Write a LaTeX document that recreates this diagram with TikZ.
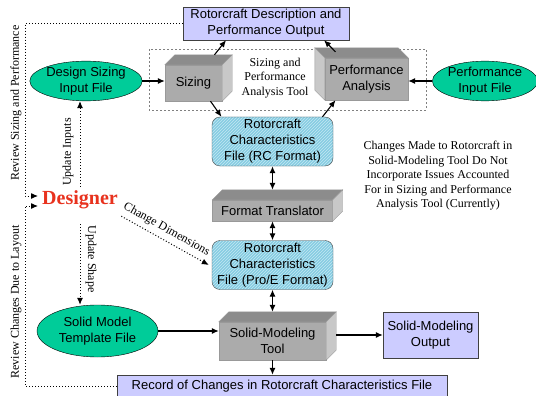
\documentclass[tikz,border=0pt]{standalone}
\usepackage{fontspec}
\setmainfont{Liberation Serif}
\setsansfont{Liberation Sans}
\usetikzlibrary{shapes.geometric,patterns,calc,arrows.meta}

\begin{document}
\begin{tikzpicture}[x=1pt,y=-1pt,>={Latex[length=7pt,width=6pt]},
  sansfont/.style={font=\fontsize{13}{16}\selectfont\sffamily},
  serfont/.style={font=\fontsize{12}{14.5}\selectfont},
  ellnode/.style={ellipse,draw=black,fill=mint,sansfont,align=center,inner sep=0pt},
  outnode/.style={rectangle,draw=black!75,fill=lilac,sansfont,align=center,inner sep=0pt},
  blknode/.style={rectangle,draw=gray!80,fill=boxfront,sansfont,align=center,inner sep=0pt},
  rcnode/.style={rectangle,rounded corners=8pt,draw=black!70,preaction={fill=hatchblue},
    pattern=north east lines,pattern color=hatchline,sansfont,align=center,inner sep=0pt,
    minimum width=121,minimum height=49},
  arr/.style={->,line width=1.1pt},
  dblarr/.style={<->,line width=1.1pt},
  dotarr/.style={->,dotted,line width=1pt}]
\definecolor{mint}{HTML}{00CC99}
\definecolor{lilac}{HTML}{CCCCFF}
\definecolor{hatchblue}{HTML}{86CCE2}
\definecolor{hatchline}{HTML}{C4E8F2}
\definecolor{boxfront}{HTML}{ABABAB}
\definecolor{boxtop}{HTML}{8C8C8C}
\definecolor{boxside}{HTML}{C8C8C8}
\definecolor{desred}{HTML}{E8321E}
\useasboundingbox (0,0) rectangle (536,396);

\draw[gray,dash pattern=on 2pt off 2pt] (149,49) rectangle (426,110);
\node[serfont,align=center] (tool) at (275,78) {Sizing and\\Performance\\Analysis Tool};

\node[outnode,minimum width=166,minimum height=33] (out) at (266,23.5) {Rotorcraft Description and\\Performance Output};
\node[blknode,minimum width=57,minimum height=36] (sz) at (193.5,83) {Sizing};
\node[blknode,minimum width=83,minimum height=42] (pa) at (366.5,79) {Performance\\Analysis};
\node[ellnode,minimum width=102,minimum height=38] (dsi) at (86,81) {Design Sizing\\Input File};
\node[ellnode,minimum width=96,minimum height=38] (pif) at (485,81) {Performance\\Input File};
\node[rcnode] (rc) at (272.5,141.5) {Rotorcraft\\Characteristics\\File (RC Format)};
\node[blknode,minimum width=120,minimum height=21] (ft) at (272.5,210.5) {Format Translator};
\node[rcnode] (pe) at (272.5,265) {Rotorcraft\\Characteristics\\File (Pro/E Format)};
\node[blknode,minimum width=107,minimum height=38] (smt) at (272.5,341) {Solid-Modeling\\Tool};
\node[outnode,minimum width=95,minimum height=46] (smo) at (430.5,335) {Solid-Modeling\\Output};
\node[ellnode,minimum width=121,minimum height=52] (smf) at (97.5,331) {Solid Model\\Template File};
\node[outnode,minimum width=330,minimum height=22] (rec) at (282,386) {Record of Changes in Rotorcraft Characteristics File};
\node[font=\fontsize{20}{24}\selectfont\bfseries,text=desred] (des) at (80,199.5) {Designer};
\node[serfont,align=center] (note) at (438,176) {Changes Made to Rotorcraft in\\Solid-Modeling Tool Do Not\\Incorporate Issues Accounted\\For in Sizing and Performance\\Analysis Tool (Currently)};

% top and side faces of the 3-d blocks
\foreach \b/\dx/\sd in {sz/10/east,pa/-10/west,ft/10/east,smt/10/east}
{ \filldraw[draw=gray!80,fill=boxtop] (\b.north west) -- ++(\dx,-10) -- ([shift={(\dx,-10)}]\b.north east) -- (\b.north east) -- cycle;
  \filldraw[draw=gray!80,fill=boxside] (\b.north \sd) -- ++(\dx,-10) -- ([shift={(\dx,-10)}]\b.south \sd) -- (\b.south \sd) -- cycle;}

\draw[arr] (dsi.east) -- (dsi.east -| sz.west);
\draw[arr] (pif.west) -- (pif.west -| pa.east);
\draw[arr] ([shift={(21,-10)}]sz.north) -- ([xshift=-40pt]out.south);
\draw[arr] ([shift={(-31,-6)}]pa.north) -- ([xshift=58pt]out.south);
\draw[arr] ([xshift=17pt]sz.south) -- ([xshift=-51pt]rc.north);
\draw[arr] ([xshift=50pt]rc.north) -- ([xshift=-31pt]pa.south);
\draw[dblarr] (rc.south) -- ([yshift=10pt]ft.north);
\draw[dblarr] (ft.south) -- (pe.north);
\draw[dblarr] (pe.south) -- ([yshift=10pt]smt.north);
\draw[arr] (smf.east) -- (smf.east -| smt.west);
\draw[arr] ($(smo.west -| smt.east)+(10,0)$) -- (smo.west);
\draw[arr] (smt.south) -- (smt.south |- rec.north);

% designer loops
\coordinate (d1) at (38,196);
\coordinate (d2) at (38,206);
\draw[dotarr] (out.west) -| (25,196) -- (d1);
\draw[dotarr] (rec.west) -| (25,206) -- (d2);
\node[serfont,rotate=90] (rsp) at (16,103) {Review Sizing and Performance};
\node[serfont,rotate=90] (rcl) at (16,302) {Review Changes Due to Layout};
\draw[dotarr] (des.north) -- (des.north |- dsi.south);
\node[serfont,rotate=90] (upi) at (68,152) {Update Inputs};
\draw[dotarr] ([yshift=-12pt]des.south) -- (des.south |- smf.north);
\node[serfont,rotate=-90] (ups) at (91,259) {Update Shape};
\draw[dotarr] ([yshift=-4pt]des.south east) -- ([xshift=-3pt]pe.west) node[pos=0.46,sloped,above=1pt,serfont] (chd) {Change Dimensions};
\end{tikzpicture}
\end{document}
